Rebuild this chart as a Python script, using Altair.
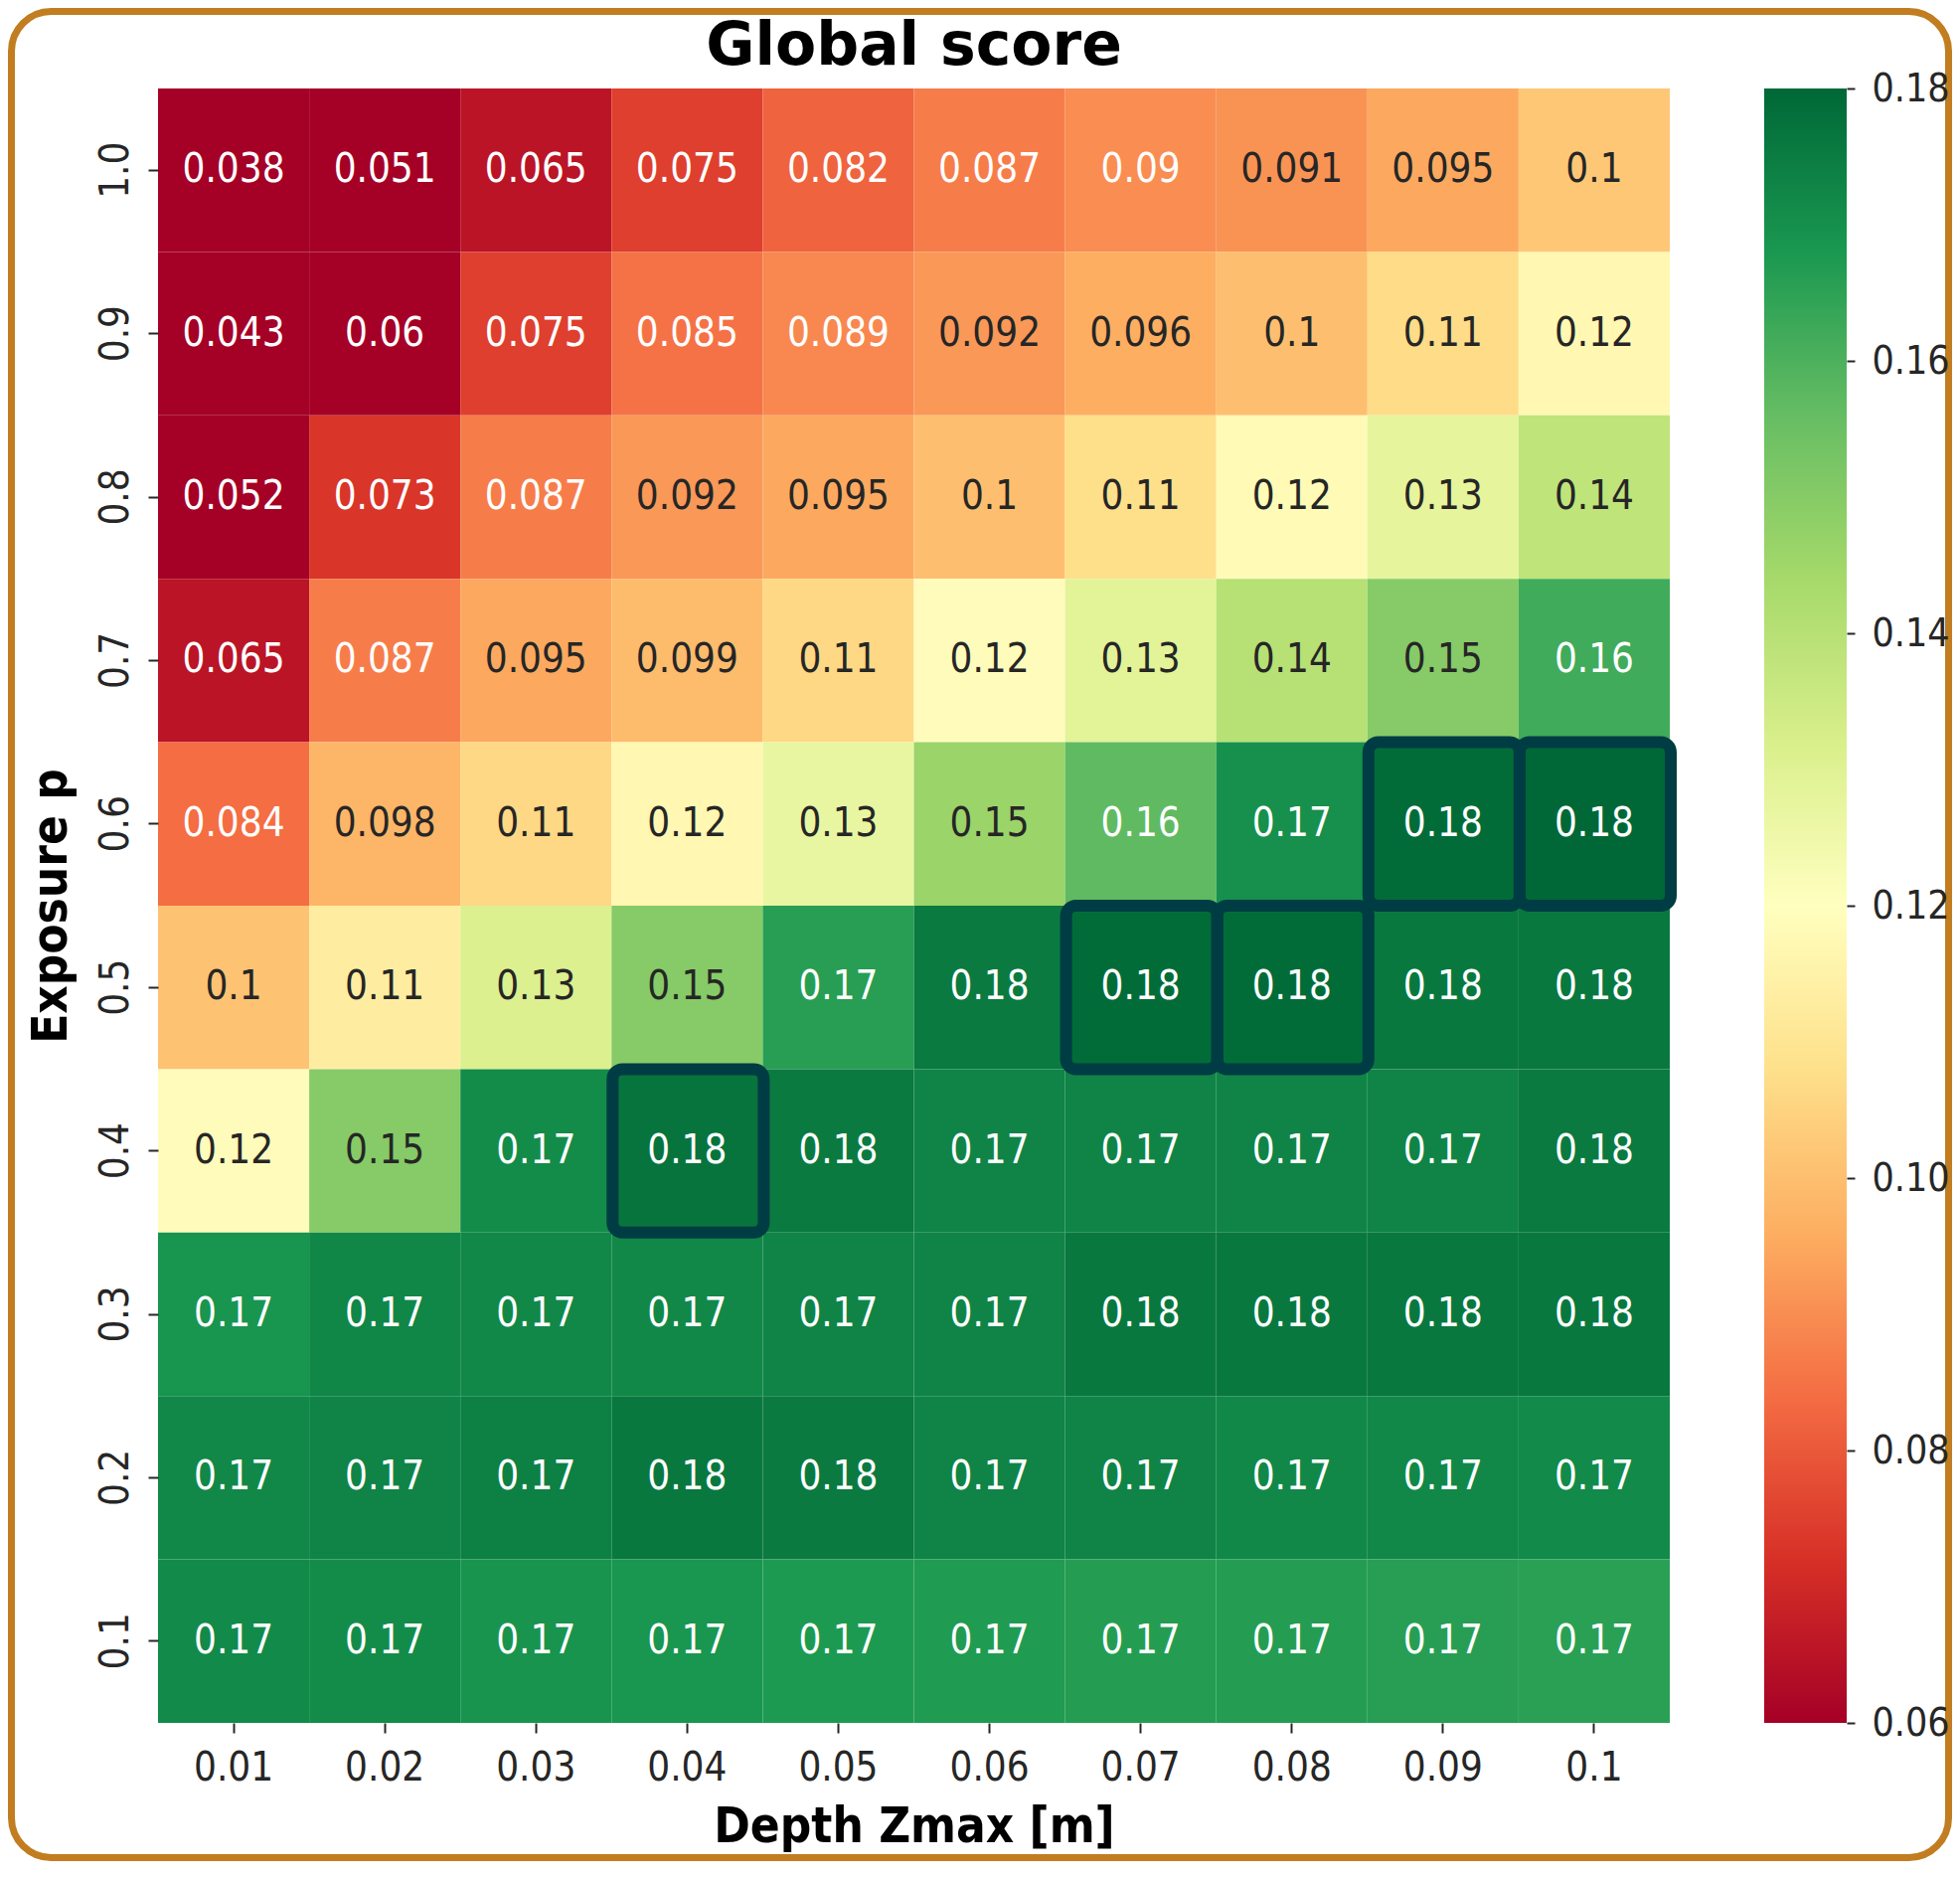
import altair as alt
import pandas as pd

# ---------------- data ----------------
chart_title = "Global score"
depth_labels = ["0.01", "0.02", "0.03", "0.04", "0.05", "0.06", "0.07", "0.08", "0.09", "0.1"]
exposure_labels = ["1.0", "0.9", "0.8", "0.7", "0.6", "0.5", "0.4", "0.3", "0.2", "0.1"]

score_p10 = [0.038, 0.051, 0.065, 0.075, 0.082, 0.087, 0.090, 0.091, 0.095, 0.102]
score_p09 = [0.043, 0.060, 0.075, 0.085, 0.089, 0.092, 0.096, 0.100, 0.107, 0.117]
score_p08 = [0.052, 0.073, 0.087, 0.092, 0.095, 0.100, 0.108, 0.118, 0.128, 0.138]
score_p07 = [0.065, 0.087, 0.095, 0.099, 0.106, 0.119, 0.129, 0.140, 0.150, 0.162]
score_p06 = [0.084, 0.098, 0.106, 0.117, 0.127, 0.146, 0.157, 0.170, 0.179, 0.180]
score_p05 = [0.101, 0.113, 0.131, 0.150, 0.166, 0.1755, 0.179, 0.179, 0.176, 0.176]
score_p04 = [0.119, 0.150, 0.171, 0.177, 0.1755, 0.173, 0.173, 0.173, 0.173, 0.1755]
score_p03 = [0.1687, 0.1725, 0.172, 0.172, 0.173, 0.173, 0.176, 0.176, 0.176, 0.176]
score_p02 = [0.172, 0.173, 0.174, 0.176, 0.1755, 0.173, 0.173, 0.172, 0.172, 0.1715]
score_p01 = [0.1715, 0.171, 0.169, 0.1685, 0.1675, 0.167, 0.1665, 0.1665, 0.166, 0.1655]

best_depth = ["0.04", "0.07", "0.08", "0.09", "0.1"]
best_exposure = ["0.4", "0.5", "0.5", "0.6", "0.6"]

colorbar_ticks = [0.06, 0.08, 0.10, 0.12, 0.14, 0.16, 0.18]

# RdYlGn (matplotlib) colour stops over vmin=0.06 .. vmax=0.18
cmap_domain = [0.06, 0.072, 0.084, 0.096, 0.108, 0.12, 0.132, 0.144, 0.156, 0.168, 0.18]
cmap_colors = ["#a50026", "#d73027", "#f46d43", "#fdae61", "#fee08b", "#ffffbf",
               "#d9ef8b", "#a6d96a", "#66bd63", "#1a9850", "#006837"]

rows = [score_p10, score_p09, score_p08, score_p07, score_p06,
        score_p05, score_p04, score_p03, score_p02, score_p01]
records = []
for p, row in zip(exposure_labels, rows):
    for z, s in zip(depth_labels, row):
        records.append({"depth": z, "exposure": p, "score": s})
df = pd.DataFrame(records)
best_df = pd.DataFrame({"depth": best_depth, "exposure": best_exposure})

vmin, vmax = cmap_domain[0], cmap_domain[-1]
cbar_df = pd.DataFrame({"lo": [vmin], "hi": [vmax]})

# ---------------- styling ----------------
COND = "DejaVu Sans Condensed, DejaVu Sans"
TXT = "#262626"
W, H = 1521, 1644

xscale = alt.Scale(domain=depth_labels, paddingInner=0, paddingOuter=0)
yscale = alt.Scale(domain=exposure_labels, paddingInner=0, paddingOuter=0)

x_enc = alt.X("depth:N", scale=xscale,
              axis=alt.Axis(title="Depth Zmax [m]", labelAngle=0, labelPadding=15,
                            titleY=119, titleBaseline="alphabetic", zindex=1))
y_enc = alt.Y("exposure:N", scale=yscale,
              axis=alt.Axis(title="Exposure p", labelAngle=270, labelAlign="center",
                            labelBaseline="bottom", labelPadding=13,
                            titleAngle=270, titleX=-93, titleY=822,
                            titleAlign="center", titleBaseline="alphabetic", zindex=1))

# decorative rounded frame around the whole figure
frame = alt.Chart(alt.Data(values=[{}])).mark_rect(
    fillOpacity=0, stroke="#C17D20", strokeWidth=7, cornerRadius=40
).encode(
    x=alt.value(-147.5), x2=alt.value(1801.5),
    y=alt.value(-77.5), y2=alt.value(1779.5)
)

# chart title, centred over the heatmap
title = alt.Chart(alt.Data(values=[{"label": chart_title}])).mark_text(
    font="DejaVu Sans", fontSize=60, fontWeight="bold", color="black",
    align="center", baseline="alphabetic"
).encode(text="label:N", x=alt.value(W / 2), y=alt.value(-24))

heat = alt.Chart(df).mark_rect().encode(
    x=x_enc, y=y_enc,
    color=alt.Color(
        "score:Q",
        scale=alt.Scale(domain=cmap_domain, range=cmap_colors, clamp=True, interpolate="rgb"),
        legend=None,
    ),
)

text = alt.Chart(df).mark_text(font=COND, fontSize=40).encode(
    x=alt.X("depth:N", scale=xscale),
    y=alt.Y("exposure:N", scale=yscale, axis=None),
    text=alt.Text("score:Q", format=".2~g"),
    color=alt.condition("datum.score < 0.0904 || datum.score > 0.1554",
                        alt.value("white"), alt.value(TXT)),
)

best = alt.Chart(best_df).mark_rect(
    fillOpacity=0, stroke="#003C43", strokeWidth=12, cornerRadius=10,
    xOffset=1, x2Offset=3, y2Offset=-10,
).encode(
    x=alt.X("depth:N", scale=xscale),
    y=alt.Y("exposure:N", scale=yscale, axis=None),
)

# colorbar: one rect spanning vmin..vmax on its own scale, filled with the colormap
grad_stops = [{"offset": (d - vmin) / (vmax - vmin), "color": c}
              for d, c in zip(cmap_domain, cmap_colors)]
cbar = alt.Chart(cbar_df).mark_rect(
    fill={"gradient": "linear", "x1": 0, "x2": 0, "y1": 1, "y2": 0, "stops": grad_stops}
).encode(
    x=alt.value(1616), x2=alt.value(1699),
    y=alt.Y("lo:Q", scale=alt.Scale(domain=[vmin, vmax], nice=False, zero=False),
            axis=alt.Axis(orient="right", offset=178, values=colorbar_ticks, format=".2f",
                          title=None, tickSize=8, labelPadding=17, labelFontSize=39,
                          zindex=1)),
    y2="hi:Q",
)

chart = alt.layer(frame, title, heat, text, best, cbar).resolve_scale(
    y="independent"
).properties(
    width=W, height=H,
    autosize=alt.AutoSizeParams(type="none"),
    padding={"left": 151, "top": 81, "right": 284, "bottom": 139},
    background="white",
).configure_view(strokeWidth=0).configure_axis(
    domain=False, grid=False, ticks=True, tickColor=TXT, tickWidth=2, tickSize=10,
    labelFont=COND, labelFontSize=40, labelColor=TXT,
    titleFont=COND, titleFontSize=49, titleFontWeight="bold", titleColor="black",
)

chart.save("out.html", embed_options={"renderer": "svg", "actions": False})
